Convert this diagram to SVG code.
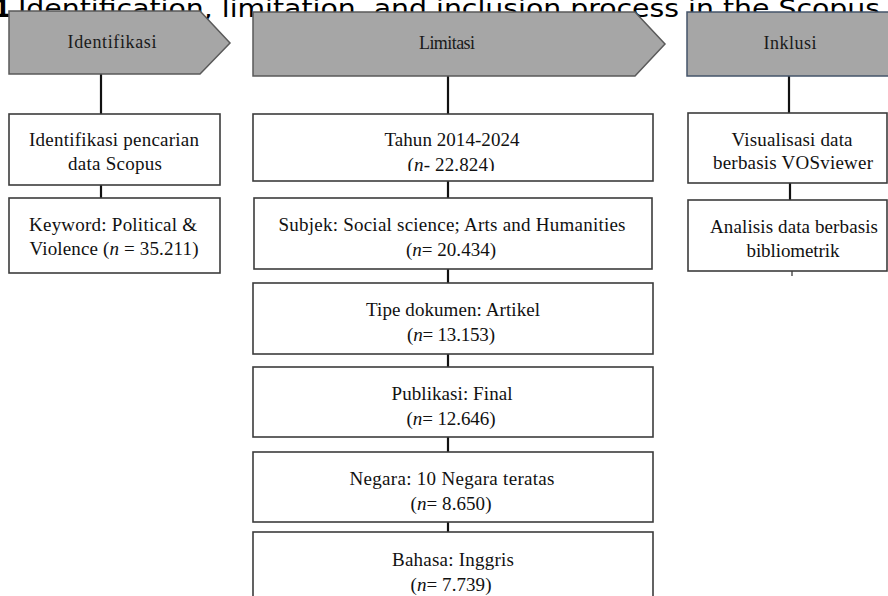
<svg xmlns="http://www.w3.org/2000/svg" width="888" height="596" viewBox="0 0 888 596">
<style>
.hdr{fill:#a6a6a6;stroke:#5a5a5a;stroke-width:1.5}
.box{fill:#fff;stroke:#3c3c3c;stroke-width:1.6}
.t{font-family:"Liberation Serif","Times New Roman",serif;font-size:19px;fill:#111;text-anchor:middle}
.h{font-family:"Liberation Serif","Times New Roman",serif;font-size:18px;fill:#1a1a1a;text-anchor:middle}
.ttl{font-family:"DejaVu Sans",Verdana,sans-serif;font-size:24px;fill:#000}
.c{stroke:#111;stroke-width:2.2;fill:none}
.i{font-style:italic}
</style>
<defs>
<clipPath id="clipTahun"><rect x="253" y="114" width="400" height="57"/></clipPath>
</defs>
<rect width="888" height="596" fill="#fff"/>
<g id="title">
<text class="ttl" x="-6" y="17" font-weight="bold" font-size="22">1.</text>
<text class="ttl" x="18" y="17" textLength="862" lengthAdjust="spacingAndGlyphs">Identification, limitation, and inclusion process in the Scopus</text>
</g>
<g id="connectors">
<line class="c" x1="101" y1="74" x2="101" y2="114"/>
<line class="c" x1="101" y1="185" x2="101" y2="198"/>
<line class="c" x1="448" y1="76" x2="448" y2="114"/>
<line class="c" x1="448" y1="181" x2="448" y2="198"/>
<line class="c" x1="448" y1="269" x2="448" y2="283"/>
<line class="c" x1="448" y1="354" x2="448" y2="367"/>
<line class="c" x1="448" y1="437" x2="448" y2="452"/>
<line class="c" x1="448" y1="522" x2="448" y2="532"/>
<line class="c" x1="789" y1="76" x2="789" y2="113"/>
<line class="c" x1="790" y1="183" x2="790" y2="200"/>
<line x1="792" y1="271" x2="792" y2="276" stroke="#555" stroke-width="1.5"/>
</g>
<g id="identifikasi">
<polygon class="hdr" points="9,11 200,11 230,43 200,74 9,74"/>
<text class="h" x="112" y="48" textLength="89" lengthAdjust="spacing">Identifikasi</text>
</g>
<g id="limitasi">
<polygon class="hdr" points="253,12 635,12 665,44 635,76 253,76"/>
<text class="h" x="447" y="49" textLength="56" lengthAdjust="spacing">Limitasi</text>
</g>
<g id="inklusi">
<rect x="687" y="12" width="210" height="64" fill="#a6a6a6" stroke="#44546a" stroke-width="1.5"/>
<text class="h" x="790" y="49" textLength="53" lengthAdjust="spacing">Inklusi</text>
</g>
<g id="identifikasi-pencarian">
<rect class="box" x="9" y="114" width="211" height="71"/>
<text class="t" x="114" y="146" textLength="170" lengthAdjust="spacing">Identifikasi pencarian</text>
<text class="t" x="115" y="170" textLength="94" lengthAdjust="spacing">data Scopus</text>
</g>
<g id="keyword">
<rect class="box" x="9" y="198" width="211" height="75"/>
<text class="t" x="113" y="231" textLength="168" lengthAdjust="spacing">Keyword: Political &amp;</text>
<text class="t" x="114" y="255" textLength="169" lengthAdjust="spacing">Violence (<tspan class="i">n</tspan> = 35.211)</text>
</g>
<g id="tahun">
<rect class="box" x="253" y="114" width="400" height="67"/>
<text class="t" x="452" y="146" textLength="135" lengthAdjust="spacing">Tahun 2014-2024</text>
<text class="t" x="451" y="171" textLength="87" lengthAdjust="spacing" clip-path="url(#clipTahun)">(<tspan class="i">n</tspan>- 22.824)</text>
</g>
<g id="subjek">
<rect class="box" x="254" y="198" width="398" height="71"/>
<text class="t" x="452" y="231" textLength="347" lengthAdjust="spacing">Subjek: Social science; Arts and Humanities</text>
<text class="t" x="451" y="256" textLength="90" lengthAdjust="spacing">(<tspan class="i">n</tspan>= 20.434)</text>
</g>
<g id="tipe">
<rect class="box" x="253" y="283" width="400" height="71"/>
<text class="t" x="453" y="316" textLength="174" lengthAdjust="spacing">Tipe dokumen: Artikel</text>
<text class="t" x="451" y="341" textLength="88" lengthAdjust="spacing">(<tspan class="i">n</tspan>= 13.153)</text>
</g>
<g id="publikasi">
<rect class="box" x="253" y="367" width="400" height="70"/>
<text class="t" x="452" y="400" textLength="121" lengthAdjust="spacing">Publikasi: Final</text>
<text class="t" x="451" y="425" textLength="89" lengthAdjust="spacing">(<tspan class="i">n</tspan>= 12.646)</text>
</g>
<g id="negara">
<rect class="box" x="253" y="452" width="400" height="70"/>
<text class="t" x="452" y="485" textLength="205" lengthAdjust="spacing">Negara: 10 Negara teratas</text>
<text class="t" x="451" y="510" textLength="81" lengthAdjust="spacing">(<tspan class="i">n</tspan>= 8.650)</text>
</g>
<g id="bahasa">
<rect class="box" x="253" y="532" width="400" height="80"/>
<text class="t" x="453" y="566" textLength="122" lengthAdjust="spacing">Bahasa: Inggris</text>
<text class="t" x="451" y="591" textLength="81" lengthAdjust="spacing">(<tspan class="i">n</tspan>= 7.739)</text>
</g>
<g id="visualisasi">
<rect class="box" x="688" y="113" width="199" height="70"/>
<text class="t" x="792" y="146" textLength="121" lengthAdjust="spacing">Visualisasi data</text>
<text class="t" x="793" y="169" textLength="160" lengthAdjust="spacing">berbasis VOSviewer</text>
</g>
<g id="analisis">
<rect class="box" x="688" y="200" width="199" height="71"/>
<text class="t" x="794" y="233" textLength="168" lengthAdjust="spacing">Analisis data berbasis</text>
<text class="t" x="793" y="257" textLength="93" lengthAdjust="spacing">bibliometrik</text>
</g>
</svg>
